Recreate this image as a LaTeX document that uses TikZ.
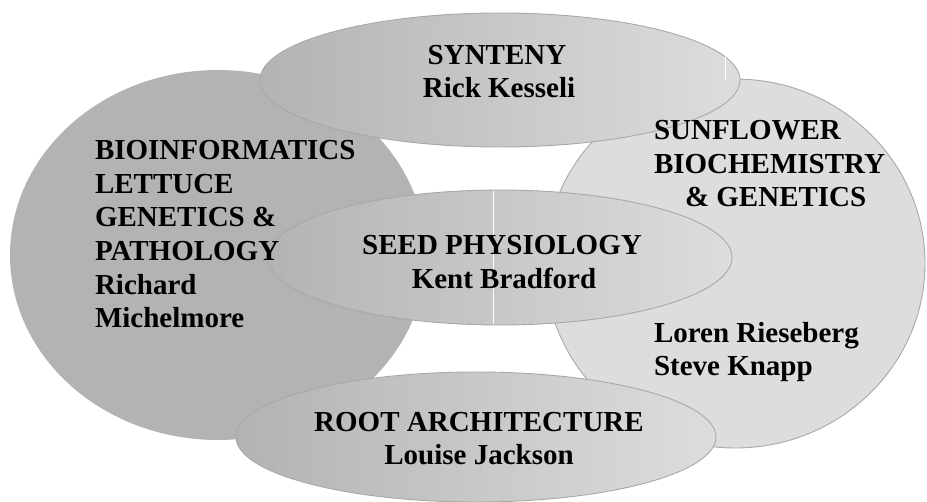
\documentclass[tikz,border=0pt]{standalone}
\usepackage{fontspec}
\setmainfont{Liberation Serif}
\usetikzlibrary{shapes.geometric}
\definecolor{dk}{RGB}{179,179,179}
\definecolor{lt}{RGB}{221,221,221}
\definecolor{edgegray}{RGB}{168,168,168}
\tikzset{
  oval/.style={shape=ellipse, inner sep=0pt, outer sep=0pt},
  outlined/.style={draw=edgegray, line width=0.9pt},
  grad/.style={left color=dk, right color=lt},
  lbl/.style={inner sep=0pt, outer sep=0pt, text=black,
              font=\bfseries\fontsize{29}{33.5}\selectfont},
  seam/.style={draw=white, line width=1pt}
}
\begin{document}
\begin{tikzpicture}[x=1pt,y=-1pt]
\useasboundingbox (0,0) rectangle (927,502);
% ellipses (back to front)
\node[oval, fill=dk, minimum width=416pt, minimum height=370pt] (bio) at (218,255) {};
\node[oval, fill=lt, outlined, minimum width=380pt, minimum height=369pt] (sun) at (735,263.5) {};
\node[oval, grad, outlined, minimum width=480pt, minimum height=134pt] (syn) at (500,80) {};
\node[oval, grad, outlined, minimum width=464pt, minimum height=135pt] (seed) at (500,257.5) {};
\node[oval, grad, outlined, minimum width=480pt, minimum height=130pt] (root) at (476,437) {};
% gradient seams
\coordinate (s1) at (493,191);
\coordinate (s2) at (493,324);
\draw[seam] (s1) -- (s2);
\coordinate (s3) at (725,57);
\coordinate (s4) at (725,80);
\draw[seam] (s3) -- (s4);
% texts
\node[lbl, anchor=base west] (b1) at (95,160) {BIOINFORMATICS};
\node[lbl, anchor=base west] (b2) at (95,193.5) {LETTUCE};
\node[lbl, anchor=base west] (b3) at (95,227) {GENETICS \&};
\node[lbl, anchor=base west] (b4) at (95,261) {PATHOLOGY};
\node[lbl, anchor=base west] (b5) at (95,294.5) {Richard};
\node[lbl, anchor=base west] (b6) at (95,328) {Michelmore};
\node[lbl, anchor=base] (t1) at (497,65) {SYNTENY};
\node[lbl, anchor=base] (t2) at (499,98) {Rick Kesseli};
\node[lbl, anchor=base west] (f1) at (654,140) {SUNFLOWER};
\node[lbl, anchor=base west] (f2) at (654,174) {BIOCHEMISTRY};
\node[lbl, anchor=base west] (f3) at (685,207) {\& GENETICS};
\node[lbl, anchor=base west] (f4) at (654,343) {Loren Rieseberg};
\node[lbl, anchor=base west] (f5) at (654,376) {Steve Knapp};
\node[lbl, anchor=base] (p1) at (502,255) {SEED PHYSIOLOGY};
\node[lbl, anchor=base] (p2) at (504,289) {Kent Bradford};
\node[lbl, anchor=base] (r1) at (479,432) {ROOT ARCHITECTURE};
\node[lbl, anchor=base] (r2) at (479,465) {Louise Jackson};
\end{tikzpicture}
\end{document}
